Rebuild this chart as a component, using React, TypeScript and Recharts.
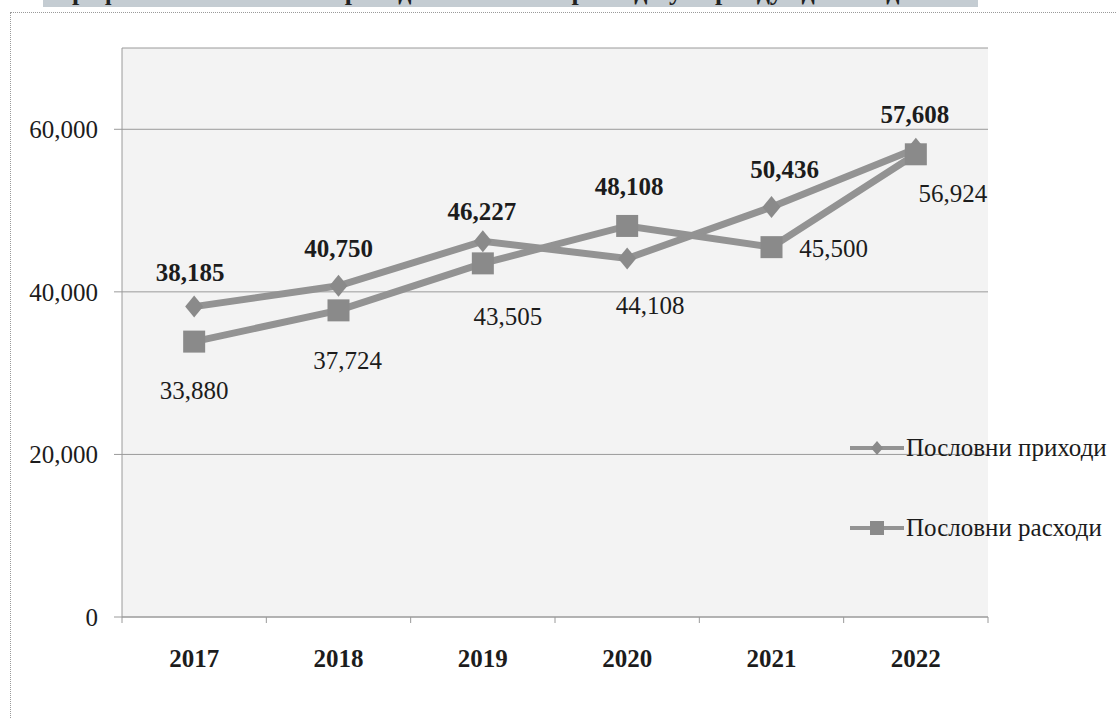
import React from "react";
import {
  LineChart,
  Line,
  XAxis,
  YAxis,
  CartesianGrid,
  Legend,
  LabelList,
} from "recharts";

// chart data
const years = ["2017", "2018", "2019", "2020", "2021", "2022"];
const incomeValues = [38185, 40750, 46227, 44108, 50436, 57608];
const expenseValues = [33880, 37724, 43505, 48108, 45500, 56924];
const yTicks = [0, 20000, 40000, 60000];
const seriesNames = ["Пословни приходи", "Пословни расходи"];
const captionText =
  "Графикон 1. Пословни приходи и пословни расходи у периоду од 2017. до 2022. године";

// label nudges (dx, dy) relative to each point
const incomeLabelShift = [[-4, -34], [0, -37], [-1, -30], [23, 47], [13, -38], [-1, -34]];
const expenseLabelShift = [[0, 49], [9, 50], [25, 53], [2, -39], [62, 1], [37, 39]];

const FONT = "'Liberation Serif', 'DejaVu Serif', serif";
const LINE_GRAY = "#939393";
const MARK_GRAY = "#8a8a8a";
const AXIS_GRAY = "#9a9a9a";

const data = years.map((year, i) => ({
  year,
  income: incomeValues[i],
  expenses: expenseValues[i],
}));

const fmt = (v: number) => v.toLocaleString("en-US");

function Diamond(props: any) {
  const { cx, cy, index } = props;
  if (cx == null || cy == null) return <g key={`d-${index}`} />;
  return (
    <polygon
      key={`d-${index}`}
      points={`${cx},${cy - 11} ${cx + 9},${cy} ${cx},${cy + 11} ${cx - 9},${cy}`}
      fill={MARK_GRAY}
    />
  );
}

function Square(props: any) {
  const { cx, cy, index } = props;
  if (cx == null || cy == null) return <g key={`s-${index}`} />;
  return <rect key={`s-${index}`} x={cx - 11} y={cy - 11} width={22} height={22} fill={MARK_GRAY} />;
}

function makeLabel(own: number[], other: number[], shift: number[][]) {
  return (props: any) => {
    const { x, y, index } = props;
    const high = own[index] >= other[index];
    const [dx, dy] = shift[index];
    return (
      <text
        x={x + dx}
        y={y + dy}
        textAnchor="middle"
        dominantBaseline="central"
        fontFamily={FONT}
        fontSize={25}
        fontWeight={high ? "bold" : "normal"}
        fill="#1c1c1c"
      >
        {fmt(own[index])}
      </text>
    );
  };
}

function YearTick(props: any) {
  const { x, y, payload, index } = props;
  const half = payload && payload.offset ? payload.offset : 72;
  return (
    <g>
      <line x1={x - half} y1={y} x2={x - half} y2={y + 6} stroke={AXIS_GRAY} />
      {index === years.length - 1 && (
        <line x1={x + half} y1={y} x2={x + half} y2={y + 6} stroke={AXIS_GRAY} />
      )}
      <text
        x={x}
        y={y + 41}
        textAnchor="middle"
        dominantBaseline="central"
        fontFamily={FONT}
        fontSize={25}
        fontWeight="bold"
        fill="#1c1c1c"
      >
        {payload.value}
      </text>
    </g>
  );
}

function LegendBox() {
  const row = (name: string, square: boolean) => (
    <div style={{ display: "flex", alignItems: "center", height: 36 }}>
      <svg width={56} height={24}>
        <line x1={0} y1={12} x2={54} y2={12} stroke={LINE_GRAY} strokeWidth={4} />
        {square ? (
          <rect x={20} y={5} width={14} height={14} fill={MARK_GRAY} />
        ) : (
          <polygon points="27,5 33,12 27,19 21,12" fill={MARK_GRAY} />
        )}
      </svg>
      <span style={{ fontFamily: FONT, fontSize: 25, color: "#1c1c1c", whiteSpace: "nowrap" }}>
        {name}
      </span>
    </div>
  );
  return (
    <div>
      {row(seriesNames[0], false)}
      <div style={{ height: 44 }} />
      {row(seriesNames[1], true)}
    </div>
  );
}

export default function App() {
  return (
    <div
      style={{
        position: "absolute",
        left: 0,
        top: 0,
        width: 1117,
        height: 719,
        overflow: "hidden",
        background: "#fff",
      }}
    >
      {/* cut-off caption strip from the scan */}
      <svg style={{ position: "absolute", left: 43, top: 0 }} width={935} height={7}>
        <rect x={0} y={0} width={935} height={7} fill="#c4ccd2" />
        <text x={14} y={0} fontFamily={FONT} fontSize={26} fontWeight="bold" fill="#222">
          {captionText}
        </text>
      </svg>
      {/* frame */}
      <div
        style={{
          position: "absolute",
          left: 10,
          top: 12,
          width: 1200,
          height: 800,
          border: "1px dotted #9a9a9a",
        }}
      />
      <div style={{ position: "absolute", left: 0, top: 0 }}>
        <LineChart
          width={1117}
          height={719}
          data={data}
          margin={{ top: 48, right: 129, bottom: 62, left: 42 }}
        >
          <CartesianGrid vertical={false} fill="#f3f3f3" stroke={AXIS_GRAY} />
          <XAxis
            dataKey="year"
            scale="band"
            height={40}
            axisLine={{ stroke: AXIS_GRAY }}
            tickLine={false}
            tickSize={0}
            tickMargin={0}
            tick={<YearTick />}
            interval={0}
          />
          <YAxis
            domain={[0, 70000]}
            ticks={yTicks}
            width={80}
            tickFormatter={fmt}
            tickSize={8}
            tickMargin={16}
            axisLine={{ stroke: AXIS_GRAY }}
            tickLine={{ stroke: AXIS_GRAY }}
            tick={{ fontFamily: FONT, fontSize: 25, fill: "#1c1c1c" }}
          />
          <Legend
            layout="vertical"
            align="center"
            verticalAlign="middle"
            wrapperStyle={{ left: 850, top: 430, width: 267 }}
            content={<LegendBox />}
          />
          <Line
            dataKey="income"
            name={seriesNames[0]}
            stroke={LINE_GRAY}
            strokeWidth={7}
            dot={Diamond}
            activeDot={false}
            isAnimationActive={false}
          >
            <LabelList
              dataKey="income"
              content={makeLabel(incomeValues, expenseValues, incomeLabelShift)}
            />
          </Line>
          <Line
            dataKey="expenses"
            name={seriesNames[1]}
            stroke={LINE_GRAY}
            strokeWidth={7}
            dot={Square}
            activeDot={false}
            isAnimationActive={false}
          >
            <LabelList
              dataKey="expenses"
              content={makeLabel(expenseValues, incomeValues, expenseLabelShift)}
            />
          </Line>
        </LineChart>
      </div>
    </div>
  );
}
